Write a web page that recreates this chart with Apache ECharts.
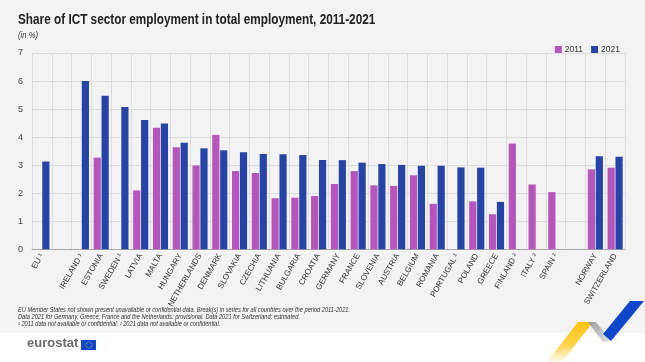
<!DOCTYPE html>
<html>
<head>
<meta charset="utf-8">
<script src="https://cdn.jsdelivr.net/npm/echarts@6/dist/echarts.min.js"></script>
<style>
html,body{margin:0;padding:0;background:#fff;}
#c{width:645px;height:362px;}
</style>
</head>
<body>
<div id="c"></div>
<script>
var categories = ['EU \u00b9','','IRELAND \u00b9','ESTONIA','SWEDEN \u00b9','LATVIA','MALTA','HUNGARY','NETHERLANDS','DENMARK','SLOVAKIA','CZECHIA','LITHUANIA','BULGARIA','CROATIA','GERMANY','FRANCE','SLOVENIA','AUSTRIA','BELGIUM','ROMANIA','PORTUGAL \u00b9','POLAND','GREECE','FINLAND \u00b2','ITALY \u00b2','SPAIN \u00b2','','NORWAY','SWITZERLAND'];
var values2011 = [null,null,null,3.27,null,2.10,4.33,3.64,2.99,4.08,2.79,2.72,1.82,1.84,1.90,2.33,2.79,2.28,2.26,2.64,1.62,null,1.71,1.25,3.77,2.31,2.04,null,2.85,2.91];
var values2021 = [3.13,null,6.00,5.48,5.07,4.61,4.49,3.80,3.60,3.53,3.46,3.40,3.39,3.36,3.18,3.18,3.09,3.04,3.01,2.98,2.98,2.92,2.91,1.69,null,null,null,null,3.32,3.30];
var yTicks = [0,1,2,3,4,5,6,7];
var seriesNames = ['2011','2021'];
var titleText = 'Share of ICT sector employment in total employment, 2011-2021';
var notes = [
 'EU Member States not shown present unavailable or confidential data. Break(s) in series for all countries over the period 2011-2021.',
 'Data 2021 for Germany, Greece, France and the Netherlands: provisional. Data 2021 for Switzerland: estimated.',
 '\u00b9 2011 data not available or confidential. \u00b2 2021 data not available or confidential.'
];

var PINK = '#B656BD', BLUE = '#2644A7';
var FONT = '"Liberation Sans",Arial,sans-serif';
var chart = echarts.init(document.getElementById('c'));

var stars = [];
for (var i = 0; i < 12; i++) {
  var a = i / 12 * Math.PI * 2;
  stars.push({type:'circle', shape:{cx:89 + 3*Math.cos(a), cy:345 + 3*Math.sin(a), r:0.45}, style:{fill:'#FFDD00'}, z:10});
}

chart.setOption({
  backgroundColor: '#fff',
  animation: false,
  textStyle: {fontFamily: FONT},
  legend: {
    data: seriesNames,
    right: 20, top: 40,
    itemWidth: 7, itemHeight: 7, itemGap: 8,
    icon: 'rect',
    textStyle: {fontFamily: FONT, fontSize: 8.5, color: '#333', padding:[0,0,0,-2]}
  },
  grid: {left: 32, right: 20, top: 53, bottom: 112.7, containLabel: false},
  xAxis: {
    type: 'category',
    data: categories,
    axisLine: {lineStyle: {color: '#aaa'}},
    axisTick: {show: false},
    splitLine: {show: true, interval: 0, lineStyle: {color: '#dcdcdc', width: 1}},
    axisLabel: {interval: 0, rotate: 60, fontSize: 8, color: '#333', fontFamily: FONT, margin: 5}
  },
  yAxis: {
    type: 'value',
    min: 0, max: 7, interval: 1,
    axisLine: {show: false},
    axisTick: {show: false},
    splitLine: {lineStyle: {color: '#dcdcdc', width: 1}},
    axisLabel: {fontSize: 9, color: '#444', margin: 9, fontFamily: FONT,
      formatter: function(v){ return yTicks.indexOf(v) >= 0 ? String(v) : ''; }}
  },
  series: [
    {name: seriesNames[0], type: 'bar', data: values2011, itemStyle: {color: PINK}, barWidth: 7.2, barGap: '10%'},
    {name: seriesNames[1], type: 'bar', data: values2021, itemStyle: {color: BLUE}, barWidth: 7.2, barGap: '10%'}
  ],
  graphic: [
    {type:'rect', shape:{x:0, y:0, width:645, height:333}, style:{fill:'#F3F3F3'}, z:-100, silent:true},
    {type:'text', x: 18, y: 12, scaleX: 0.785, style:{text: titleText, font:'bold 15px ' + FONT, fill:'#222', verticalAlign:'top'}, z:10},
    {type:'text', x: 18, y: 31, scaleX: 0.85, style:{text: '(in %)', font:'italic 9px ' + FONT, fill:'#333', verticalAlign:'top'}, z:10},
    {type:'text', x: 18, y: 307, scaleX: 0.81, style:{text: notes.join('\n'), font:'italic 7px ' + FONT, fill:'#333', lineHeight: 7, verticalAlign:'top'}, z:10},
    {type:'text', x: 27, y: 337, style:{text:'eurostat', font:'bold 13px ' + FONT, fill:'#6b6b6b', verticalAlign:'top'}, z:10},
    {type:'rect', shape:{x:81, y:340, width:15, height:10}, style:{fill:'#0E47CB'}, z:10}
  ].concat(stars).concat([
    {type:'polygon', shape:{points:[[578,322],[593,322],[562,362],[547,362]]},
      style:{fill:new echarts.graphic.LinearGradient(0,0,0,1,[{offset:0,color:'#FFC20E'},{offset:0.6,color:'#FFD34D'},{offset:1,color:'rgba(255,230,150,0.2)'}])}, z:11},
    {type:'polygon', shape:{points:[[588,322],[596,322],[612,341],[603,342]]},
      style:{fill:new echarts.graphic.LinearGradient(0,0,1,1,[{offset:0,color:'#9a9a9a'},{offset:1,color:'#e6e6e6'}])}, z:11},
    {type:'polygon', shape:{points:[[630,301],[644,301],[611,341],[603,334]]},
      style:{fill:'#0E47CB'}, z:12}
  ])
});
</script>
</body>
</html>
